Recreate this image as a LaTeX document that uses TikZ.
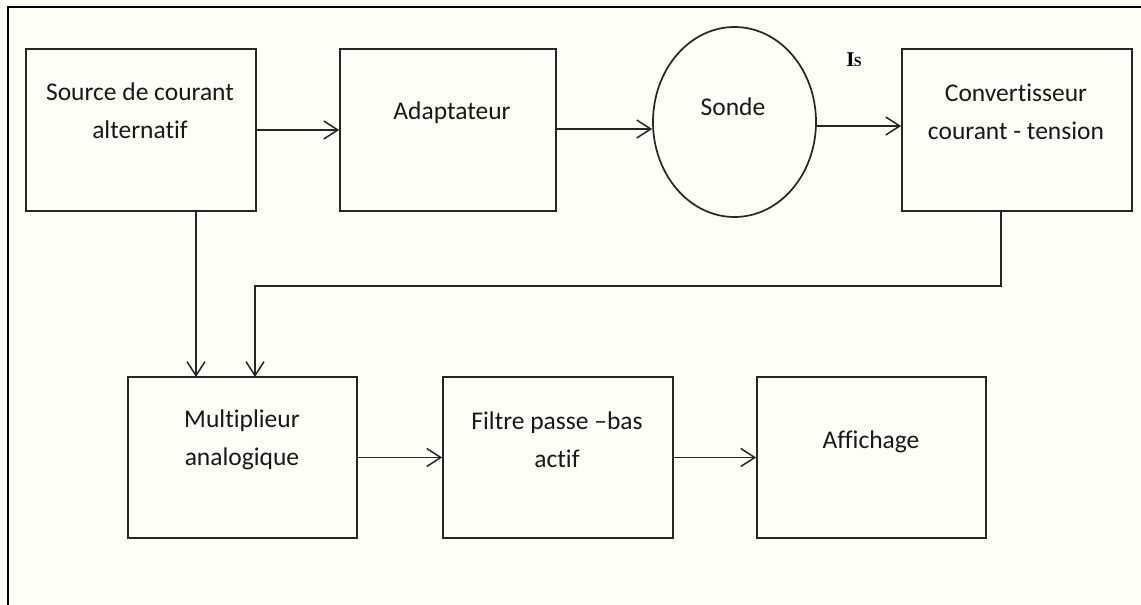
\documentclass[tikz,border=0pt]{standalone}
\usepackage{fontspec}
\setmainfont{Carlito}[Ligatures={NoCommon}]
\newfontfamily\isfont{Liberation Serif}
\usetikzlibrary{arrows.meta,shapes.geometric}
\definecolor{bgc}{HTML}{FEFDF6}
\definecolor{linec}{HTML}{262626}
\begin{document}
\begin{tikzpicture}[x=1pt,y=-1pt,
  blk/.style={draw=linec,line width=1.7pt,rectangle,inner sep=0pt},
  lbl/.style={align=center,font=\fontsize{25.5}{38}\selectfont,text=black!90,inner sep=0pt},
  arr/.style={draw=linec,line width=1.5pt,-{Straight Barb[length=14pt,width=18pt,line width=1.5pt]}},
  con/.style={draw=linec,line width=1.5pt}]
\useasboundingbox (0,0) rectangle (1141,605);
\fill[bgc] (0,0) rectangle (1141,605);
% frame
\draw[line width=2pt,black] (8,620) -- (8,7) -- (1150,7);
% boxes
\node[blk,minimum width=230pt,minimum height=162pt] (src) at (141,130) {};
\node[blk,minimum width=216pt,minimum height=162pt] (adp) at (448,130) {};
\node[draw=linec,line width=1.7pt,ellipse,inner sep=0pt,minimum width=163pt,minimum height=190pt] (sonde) at (734.5,122) {};
\node[blk,minimum width=230pt,minimum height=162pt] (conv) at (1017,130) {};
\node[blk,minimum width=229pt,minimum height=161pt] (mul) at (242.5,457.5) {};
\node[blk,minimum width=230pt,minimum height=161pt] (fil) at (558,457.5) {};
\node[blk,minimum width=229pt,minimum height=161pt] (aff) at (871.5,457.5) {};
% labels
\node[lbl] (tsrc) at (140,111) {Source de courant\\alternatif};
\node[lbl] (tadp) at (452,113) {Adaptateur};
\node[lbl] (tsonde) at (733,107) {Sonde};
\node[lbl] (tconv) at (1016,112) {Convertisseur\\courant - tension};
\node[lbl] (tmul) at (242,440) {Multiplieur\\analogique};
\node[lbl] (tfil) at (557,440) {Filtre passe --bas\\actif};
\node[lbl] (taff) at (871,442) {Affichage};
\node[inner sep=0pt,text=black,anchor=base] (is) at (854,66) {\isfont\bfseries\fontsize{21}{21}\selectfont I\kern-0.5pt{\fontsize{14}{14}\selectfont S}};
% connectors
\draw[arr] (src.east) -- (adp.west);
\draw[arr] ([yshift=1pt]adp.east) -- ([yshift=1pt]adp.east -| sonde.west);
\draw[arr] ([yshift=-4pt]sonde.east) -- ([yshift=-4pt]sonde.east -| conv.west);
\draw[arr] (mul.east) -- (fil.west);
\draw[arr] (fil.east) -- (aff.west);
\coordinate (m1) at (196,377);
\coordinate (m2) at (255,377);
\coordinate (c1) at (1001,286);
\draw[arr] (m1 |- src.south) -- (m1);
\draw[arr] (c1 |- conv.south) -- (c1) -- (c1 -| m2) -- (m2);
\end{tikzpicture}
\end{document}
